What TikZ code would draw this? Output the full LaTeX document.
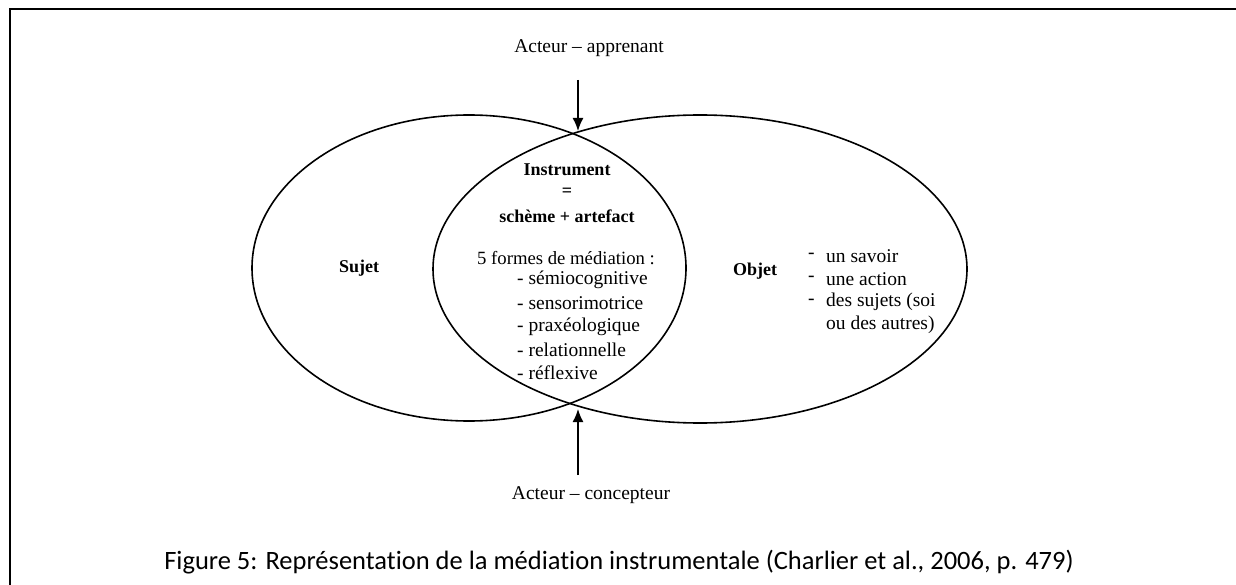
\documentclass[tikz,border=0pt]{standalone}
\usepackage{fontspec}
\setmainfont{Liberation Serif}
\newfontfamily\capfont[Ligatures=NoCommon]{Carlito}
\usetikzlibrary{shapes.geometric,arrows.meta}
\begin{document}
\begin{tikzpicture}[x=1pt,y=-1pt,
  txt/.style={inner sep=0pt,font=\fontsize{19.5}{23}\selectfont},
  btxt/.style={inner sep=0pt,font=\fontsize{18}{22}\selectfont\bfseries},
  oval/.style={draw,ellipse,line width=1.6pt,inner sep=0pt},
  arr/.style={line width=1.6pt,-{Latex[length=13pt,width=11pt]}}]
\useasboundingbox (0,0) rectangle (1236,585);
\draw[line width=2.5pt] (10,600) -- (10,9) -- (1250,9);
% ellipses
\node[oval,minimum width=434pt,minimum height=306pt] (sujetE) at (469,268) {};
\node[oval,minimum width=534pt,minimum height=308pt] (objetE) at (700,269) {};
% arrows
\node[txt] (appr) at (589,48) {Acteur – apprenant};
\node[txt] (conc) at (591,495) {Acteur – concepteur};
\coordinate (topX) at (578,131);
\coordinate (botX) at (578,409);
\coordinate (topT) at (578,80);
\coordinate (botT) at (578,475);
\draw[arr] (topT) -- (topX);
\draw[arr] (botT) -- (botX);
% labels
\node[btxt] (sujet) at (359,268) {Sujet};
\node[btxt] (objet) at (755,271) {Objet};
\node[btxt] (instr) at (567,170) {Instrument};
\node[btxt] (eq) at (567,192) {=};
\node[btxt] (sch) at (567,216) {schème + artefact};
\node[txt,font=\fontsize{18.7}{22}\selectfont] (formes) at (566,258) {5 formes de médiation :};
\node[txt,anchor=west] (m1) at (517,280) {- sémiocognitive};
\node[txt,anchor=west] (m2) at (517,303) {- sensorimotrice};
\node[txt,anchor=west] (m3) at (517,327) {- praxéologique};
\node[txt,anchor=west] (m4) at (517,350) {- relationnelle};
\node[txt,anchor=west] (m5) at (517,373) {- réflexive};
\node[txt,anchor=west] (d1) at (808,256) {-};
\node[txt,anchor=west] (d2) at (808,279) {-};
\node[txt,anchor=west] (d3) at (808,302) {-};
\node[txt,anchor=west] (o1) at (826,256) {un savoir};
\node[txt,anchor=west] (o2) at (826,279) {une action};
\node[txt,anchor=west] (o3) at (826,302) {des sujets (soi};
\node[txt,anchor=west] (o4) at (826,325) {ou des autres)};
% caption
\node[inner sep=0pt,font=\capfont\fontsize{26.5}{30}\selectfont] (cap) at (619,562) {Figure 5: Représentation de la médiation instrumentale (Charlier et al., 2006, p. 479)};
\end{tikzpicture}
\end{document}
